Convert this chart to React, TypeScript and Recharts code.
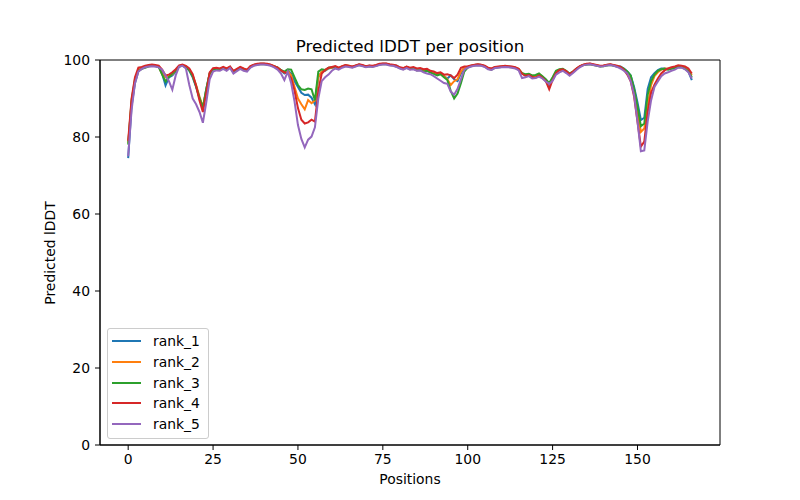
import { LineChart, Line, XAxis, YAxis, Legend, ReferenceArea } from "recharts";

// predicted lDDT per residue position, one list per ranked model
const rank1 = [
  74.5, 88, 94, 97, 97.8, 98.2, 98.5, 98.6, 98.5, 98.3,
  96.5, 93.4, 95.5, 96, 97, 98.3, 98.5, 98.2, 97.2, 95.5,
  93, 90, 87.5, 92.5, 96.5, 97.6, 97.8, 97.6, 98, 97.5,
  98.2, 96.8, 97.4, 98, 97.6, 97.3, 98.3, 98.7, 98.9, 99,
  99, 98.9, 98.7, 98.3, 98, 97.2, 96.5, 97.3, 96.5, 94.5,
  93, 91.5, 90.9, 91, 90.2, 88.5, 95.5, 97, 97.2, 97.8,
  98, 98.2, 97.8, 98.3, 98.6, 98.4, 98.2, 98.5, 98.8, 98.6,
  98.3, 98.5, 98.4, 98.6, 98.9, 99, 99, 98.8, 98.7, 98.5,
  98, 97.7, 98.2, 97.8, 98, 97.5, 97.6, 97.2, 97.5, 96.9,
  96.6, 96.2, 96.5, 95.8, 95.2, 96, 95, 94.5, 96.5, 98,
  98.2, 98.5, 98.7, 98.8, 98.7, 98.4, 97.8, 97.6, 98.1, 98.2,
  98.3, 98.4, 98.3, 98.2, 98, 97.6, 96.5, 96, 96.2, 95.8,
  95.8, 96.2, 95.6, 94.5, 93.5, 95, 96.8, 97.4, 97.5, 97,
  96.2, 96.8, 97.6, 98.3, 98.7, 98.9, 99, 98.8, 98.6, 98.4,
  98.5, 98.7, 98.8, 98.6, 98.4, 98.3, 97.8, 97, 96, 93,
  89, 84.4, 85, 92.5, 95.5, 96.6, 97.4, 97.8, 97.8, 97.6,
  97.8, 98.1, 98.3, 98.2, 97.8, 97, 94.8,
];

const rank2 = [
  78.5, 89, 94.5, 97.3, 98, 98.3, 98.5, 98.6, 98.5, 98.2,
  96.3, 95.5, 95.8, 96.3, 97.3, 98.4, 98.6, 98.3, 97.5, 96,
  93.5, 90.5, 87.8, 92, 96.6, 97.7, 97.8, 97.5, 98, 97.6,
  98.2, 97, 97.5, 98.1, 97.7, 97.4, 98.3, 98.7, 98.9, 99,
  99, 98.9, 98.7, 98.4, 98, 97.3, 96.8, 97.2, 96, 93,
  90, 88.5, 87.2, 89.6, 88.8, 89.5, 95.5, 97, 97.3, 97.9,
  98, 98.3, 97.9, 98.3, 98.6, 98.5, 98.2, 98.5, 98.8, 98.6,
  98.3, 98.5, 98.4, 98.6, 98.9, 99, 99, 98.8, 98.7, 98.4,
  98, 97.8, 98.2, 97.8, 98, 97.6, 97.6, 97.3, 97.4, 97,
  96.6, 96.4, 96.4, 95.9, 95, 93.5, 94.5, 95, 97, 98,
  98.2, 98.5, 98.7, 98.8, 98.7, 98.4, 97.9, 97.7, 98.1, 98.2,
  98.3, 98.4, 98.3, 98.2, 98, 97.7, 96.6, 96.1, 96.3, 95.9,
  95.8, 96.3, 95.7, 94.6, 93.8, 95.2, 97, 97.4, 97.5, 97,
  96.3, 96.9, 97.7, 98.3, 98.7, 98.9, 99, 98.8, 98.6, 98.4,
  98.5, 98.7, 98.8, 98.6, 98.4, 98.2, 97.6, 96.6, 95.5, 92,
  87, 81.3, 82.2, 88, 93.5, 95.8, 96.8, 97.5, 97.8, 97.7,
  97.9, 98.2, 98.4, 98.3, 97.9, 97.3, 96,
];

const rank3 = [
  78, 89.5, 95, 97.2, 97.7, 98, 98.3, 98.5, 98.4, 98.2,
  96.2, 94.4, 95.6, 96.5, 97.3, 98.3, 98.5, 98.2, 97.4, 95.8,
  93.2, 90.2, 87.6, 92.5, 96.5, 97.5, 97.7, 97.5, 97.9, 97.4,
  98.1, 96.9, 97.3, 98, 97.5, 97.2, 98.2, 98.6, 98.8, 98.9,
  98.9, 98.8, 98.6, 98.3, 98, 97.4, 97, 97.6, 97.5, 95.5,
  93.5, 92.4, 92.2, 92.6, 92.4, 89.5, 97, 97.6, 97.4, 98,
  98.1, 98.2, 97.8, 98.2, 98.5, 98.3, 98.1, 98.4, 98.7, 98.5,
  98.2, 98.4, 98.3, 98.5, 98.8, 98.9, 98.9, 98.7, 98.6, 98.3,
  97.9, 97.6, 98, 97.6, 97.8, 97.3, 97.4, 97, 97.2, 96.7,
  96.4, 96, 96.3, 95.5, 94.8, 92, 90, 91.3, 94, 97,
  98, 98.4, 98.6, 98.7, 98.6, 98.3, 97.7, 97.5, 98, 98.1,
  98.2, 98.3, 98.2, 98.1, 97.9, 97.5, 96.6, 96.3, 96.4, 96,
  96.1, 96.5, 95.8, 95, 94, 95.5, 97.2, 97.6, 97.7, 97.2,
  96.5, 97, 97.7, 98.3, 98.7, 98.8, 98.9, 98.7, 98.5, 98.3,
  98.4, 98.6, 98.7, 98.5, 98.3, 98.2, 97.7, 97, 96, 92.5,
  88, 82.8, 83.5, 91, 94.5, 96.2, 97.2, 97.6, 97.7, 97.5,
  97.7, 98, 98.2, 98.1, 97.7, 97.1, 95.5,
];

const rank4 = [
  79, 90, 95.5, 98, 98.2, 98.5, 98.7, 98.8, 98.7, 98.5,
  97.5, 96, 96.2, 96.8, 97.6, 98.6, 98.8, 98.5, 97.8, 96.3,
  93.3, 89.5, 86.5, 91.5, 96.8, 97.9, 98, 97.8, 98.2, 97.8,
  98.3, 97.2, 97.7, 98.2, 97.8, 97.5, 98.4, 98.8, 99, 99.1,
  99.1, 99, 98.8, 98.4, 98, 97.3, 96.8, 96.5, 95.2, 92,
  87.5, 84.5, 83.5, 83.8, 84.5, 84, 92, 96.5, 97.4, 98,
  98.2, 98.4, 98, 98.4, 98.7, 98.5, 98.3, 98.6, 98.9, 98.7,
  98.4, 98.6, 98.5, 98.7, 99, 99.1, 99.1, 98.9, 98.8, 98.6,
  98.1, 97.9, 98.3, 98, 98.2, 97.8, 97.9, 97.6, 97.7, 97.2,
  97, 96.6, 96.8, 96.2, 96.3, 96, 95.3, 96.2, 98, 98.3,
  98.4, 98.6, 98.8, 98.9, 98.8, 98.5, 98, 97.8, 98.2, 98.3,
  98.4, 98.5, 98.4, 98.3, 98.1, 97.7, 96.4, 95.9, 96.1, 95.6,
  95.4, 96, 95.4, 94.5, 92.4, 94.8, 96.6, 97.4, 97.6, 97.1,
  96.3, 97, 97.8, 98.4, 98.8, 99, 99.1, 98.9, 98.7, 98.5,
  98.6, 98.8, 98.9, 98.7, 98.5, 98.2, 97.5, 96.2, 94.5, 90.5,
  84, 77.5, 78.8, 86.5, 91.5, 93.6, 95.2, 96.5, 97.3, 97.8,
  98.1, 98.3, 98.6, 98.5, 98.3, 97.8, 96.5,
];

const rank5 = [
  75, 87, 94, 97, 97.7, 98.1, 98.3, 98.4, 98.3, 98.1,
  97.5, 96, 94.5, 92.3, 96, 98.3, 98.5, 97.8, 93.5, 90,
  88.5, 86.5, 83.7, 89, 95, 97, 97.3, 97.2, 97.7, 97.2,
  97.9, 96.5, 97.1, 97.7, 97.2, 97, 98, 98.5, 98.7, 98.8,
  98.8, 98.7, 98.5, 98.1, 97.5, 96.5, 94.8, 97, 94, 89.2,
  83.1, 79.5, 77.3, 79.3, 80.1, 82.5, 90, 94.5, 95.5, 96.2,
  97.2, 97.8, 97.5, 98, 98.3, 98.2, 98, 98.3, 98.6, 98.4,
  98.1, 98.3, 98.2, 98.4, 98.7, 98.8, 98.8, 98.6, 98.5, 98.2,
  97.8, 97.5, 97.9, 97.5, 97.6, 97.2, 97.3, 96.8, 96.5, 96.3,
  95.8, 95.2, 94.6, 94, 93.8, 91.8, 91, 92.5, 95, 97.5,
  98, 98.3, 98.5, 98.6, 98.5, 98.2, 97.6, 97.4, 97.9, 98,
  98.1, 98.2, 98.1, 98, 97.8, 97.3, 95.3, 95.5, 95.8, 95.2,
  95.3, 95.7, 95.2, 94.4, 93.8, 94.6, 96.2, 96.8, 97.2, 96.6,
  95.9, 96.6, 97.4, 98.1, 98.6, 98.8, 98.9, 98.7, 98.5, 98.3,
  98.4, 98.6, 98.7, 98.5, 98.2, 97.8, 97.2, 96.5, 94.5, 91,
  84, 76.3, 76.5, 84, 89.5, 93, 94.4, 95.8, 96.5, 96.8,
  97.2, 97.5, 98, 98, 97.6, 96.8, 95.2,
];

const xTicks = [0, 25, 50, 75, 100, 125, 150];
const yTicks = [0, 20, 40, 60, 80, 100];

const series = [
  { key: "rank_1", values: rank1, color: "#1f77b4" },
  { key: "rank_2", values: rank2, color: "#ff7f0e" },
  { key: "rank_3", values: rank3, color: "#2ca02c" },
  { key: "rank_4", values: rank4, color: "#d62728" },
  { key: "rank_5", values: rank5, color: "#9467bd" },
];

const data = rank1.map((_, i) => {
  const row: Record<string, number> = { pos: i };
  series.forEach((s) => (row[s.key] = s.values[i]));
  return row;
});

const FONT = "'DejaVu Sans', sans-serif";
const tickStyle = { fontSize: 13.9, fill: "#000", fontFamily: FONT };

const renderLegend = () => (
  <div
    style={{
      border: "1px solid #cccccc",
      borderRadius: 3,
      background: "rgba(255,255,255,0.8)",
      padding: "2px 8px 4px 4px",
      fontFamily: FONT,
      fontSize: 13.9,
      color: "#000",
    }}
  >
    {series.map((s) => (
      <div key={s.key} style={{ display: "flex", alignItems: "center", height: 20.7 }}>
        <span style={{ display: "inline-block", width: 29, height: 2, background: s.color, marginRight: 12 }} />
        <span>{s.key}</span>
      </div>
    ))}
  </div>
);

export default function App() {
  return (
    <div style={{ position: "absolute", left: 0, top: 0, width: 800, height: 500, background: "#fff" }}>
      <LineChart width={800} height={500} data={data} margin={{ top: 60, right: 80, bottom: 0, left: 0 }}>
        <XAxis
          dataKey="pos"
          type="number"
          domain={[-8.3, 174.3]}
          allowDataOverflow
          ticks={xTicks}
          height={55}
          tickSize={5}
          tickMargin={4}
          stroke="#000"
          tick={tickStyle}
        />
        <YAxis
          type="number"
          domain={[0, 100]}
          allowDataOverflow
          ticks={yTicks}
          width={100}
          tickSize={5}
          tickMargin={5}
          stroke="#000"
          tick={tickStyle}
        />
        {series.map((s) => (
          <Line
            key={s.key}
            dataKey={s.key}
            name={s.key}
            stroke={s.color}
            strokeWidth={2}
            dot={false}
            activeDot={false}
            isAnimationActive={false}
          />
        ))}
        <ReferenceArea x1={-8.3} x2={174.3} y1={0} y2={100} fill="none" stroke="#000" strokeWidth={1} ifOverflow="visible" />
        <Legend
          layout="vertical"
          align="center"
          verticalAlign="middle"
          content={renderLegend}
          wrapperStyle={{ left: 107, top: 328, width: "auto", height: "auto" }}
        />
      </LineChart>
      <div
        style={{
          position: "absolute",
          left: 100,
          width: 620,
          top: 36,
          textAlign: "center",
          fontFamily: FONT,
          fontSize: 16.7,
          color: "#000",
        }}
      >
        Predicted lDDT per position
      </div>
      <div
        style={{
          position: "absolute",
          left: 100,
          width: 620,
          top: 471,
          textAlign: "center",
          fontFamily: FONT,
          fontSize: 13.9,
          color: "#000",
        }}
      >
        Positions
      </div>
      <div
        style={{
          position: "absolute",
          left: 50,
          top: 252.5,
          transform: "translate(-50%, -50%) rotate(-90deg)",
          whiteSpace: "nowrap",
          fontFamily: FONT,
          fontSize: 13.9,
          color: "#000",
        }}
      >
        Predicted lDDT
      </div>
    </div>
  );
}
